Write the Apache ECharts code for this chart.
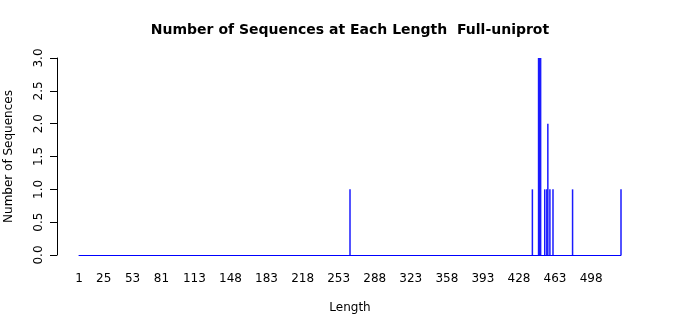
<!DOCTYPE html>
<html>
<head>
<meta charset="utf-8">
<script src="https://cdn.jsdelivr.net/npm/echarts@6/dist/echarts.min.js"></script>
<style>html,body{margin:0;padding:0;background:#fff}#c{width:700px;height:315px}</style>
</head>
<body>
<div id="c"></div>
<script>
// Sequence lengths with non-zero counts (all other lengths 1..527 have count 0)
var lengths = [264, 441, 447, 448, 449, 453, 455, 456, 458, 461, 480, 527];
var counts  = [1,   1,   3,   3,   3,   1,   1,   2,   1,   1,   1,   1];
var xTickLabels = [1, 25, 53, 81, 113, 148, 183, 218, 253, 288, 323, 358, 393, 428, 463, 498];
var minLength = 1, maxLength = 527;

var data = lengths.map(function (l, i) { return [l, counts[i]]; });
var font = 'DejaVu Sans';
var chart = echarts.init(document.getElementById('c'), null, {renderer: 'canvas'});
chart.setOption({
  animation: false,
  backgroundColor: '#fff',
  title: {
    text: 'Number of Sequences at Each Length  Full-uniprot',
    left: 'center', top: 18,
    textStyle: {fontFamily: font, fontSize: 14, fontWeight: 'bold', color: '#000'}
  },
  grid: {left: 79, right: 79, top: 58, bottom: 60, containLabel: false, outerBoundsMode: 'none'},
  xAxis: {
    type: 'value', min: minLength, max: maxLength,
    name: 'Length', nameLocation: 'middle', nameGap: 47,
    nameTextStyle: {fontFamily: font, fontSize: 12, color: '#000'},
    axisLine: {show: true, onZero: false, lineStyle: {color: '#0000ff', width: 1}},
    axisTick: {show: false},
    splitLine: {show: false},
    axisLabel: {
      customValues: xTickLabels, margin: 18,
      fontFamily: font, fontSize: 12, color: '#000'
    }
  },
  yAxis: {
    type: 'value', min: 0, max: 3, interval: 0.5, offset: 22,
    name: 'Number of Sequences', nameLocation: 'middle', nameGap: 42,
    nameTextStyle: {fontFamily: font, fontSize: 12, color: '#000'},
    axisLine: {show: true, lineStyle: {color: '#000', width: 1}},
    axisTick: {show: true, length: 7, lineStyle: {color: '#000'}},
    splitLine: {show: false},
    axisLabel: {
      rotate: 90, margin: 12, fontFamily: font, fontSize: 12, color: '#000',
      formatter: function (v) { return v.toFixed(1); }
    }
  },
  series: [{
    type: 'bar', data: data, barWidth: 1.5,
    itemStyle: {color: '#1a1aff'}
  }]
});
</script>
</body>
</html>
